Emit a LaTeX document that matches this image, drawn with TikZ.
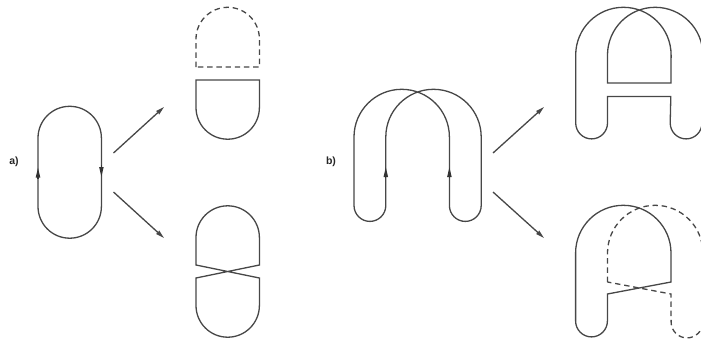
\documentclass[tikz,border=0pt]{standalone}
\usepackage{fontspec}
\setmainfont{Liberation Sans}
\usetikzlibrary{arrows.meta}
\tikzset{
	strand/.style={line width=1.3bp, color=black!72, line join=miter},
	dashstrand/.style={strand, dash pattern=on 5.4bp off 3.8bp},
	moveto/.style={line width=1.3bp, color=black!72, -{Stealth[length=8.5bp,width=4.4bp,inset=0.5bp]}},
	sense/.style={line width=1.3bp, color=black!80, -{Stealth[length=10bp,width=4.2bp,inset=0pt]}},
	panellabel/.style={font=\bfseries\fontsize{10.5bp}{12bp}\selectfont, inner sep=0pt, color=black!85}
}
\begin{document}
\begin{tikzpicture}[x=1bp, y=-1bp]
	\def\BigRadius{47.7} % duza petla
	\def\MidRadius{31.7} % petla w a)
	\def\SmallRadius{15.9} % male zakonczenia
	\useasboundingbox (0,0) rectangle (701,338);
	\clip (0,0) rectangle (701,338);

	% Panel a)
	\node[panellabel] (labelA) at (14,162) {a)};
	\draw[strand] (38,138) arc (180:360:\MidRadius) -- (101.4,206.5) arc (0:180:\MidRadius) -- cycle;
	\coordinate (senseAa) at (38,179);
	\coordinate (senseAb) at (38,167.5);
	\coordinate (senseAc) at (101.4,165);
	\coordinate (senseAd) at (101.4,177);
	\draw[sense] (senseAa) -- (senseAb);
	\draw[sense] (senseAc) -- (senseAd);

	% Strzalki a)
	\coordinate (startAup) at (113.5,153);
	\coordinate (endAup) at (164,107);
	\coordinate (startAdown) at (113.5,192);
	\coordinate (endAdown) at (164,238);
	\draw[moveto] (startAup) -- (endAup);
	\draw[moveto] (startAdown) -- (endAdown);

	% Gora a)
	\draw[dashstrand] (196,67) -- (196,39) arc (180:360:\MidRadius) -- (259.4,67) -- cycle;
	\draw[strand] (196,80) -- (259.4,80) -- (259.4,107.5) arc (0:180:\MidRadius) -- cycle;

	% Dol a)
	\draw[strand] (196,265) -- (196,237.5) arc (180:360:\MidRadius) -- (259.4,265) -- (196,278) -- (196,305.5) arc (180:0:\MidRadius) -- (259.4,278) -- cycle;

	% Panel b)
	\node[panellabel] (labelB) at (331,162) {b)};
	\draw[strand] (449.4,205.5) -- (449.4,137) arc (360:180:\BigRadius) -- (354,205.5) arc (180:0:\SmallRadius) -- (385.8,137) arc (180:360:\BigRadius) -- (481.2,205.5) arc (0:180:\SmallRadius);
	\coordinate (senseBa) at (385.8,178);
	\coordinate (senseBb) at (385.8,167);
	\coordinate (senseBc) at (449.4,178);
	\coordinate (senseBd) at (449.4,167);
	\draw[sense] (senseBa) -- (senseBb);
	\draw[sense] (senseBc) -- (senseBd);

	% Strzalki b)
	\coordinate (startBup) at (493,153);
	\coordinate (endBup) at (544,107);
	\coordinate (startBdown) at (493,192);
	\coordinate (endBdown) at (544,238);
	\draw[moveto] (startBup) -- (endBup);
	\draw[moveto] (startBdown) -- (endBdown);

	% Gora b)
	\draw[strand] (607.5,83) -- (607.5,55) arc (180:360:\BigRadius) -- (702,123) arc (0:180:\SmallRadius) -- (670.8,96.5) -- (607.5,96.5) -- (607.5,123) arc (0:180:\SmallRadius) -- (575.7,55) arc (180:360:\BigRadius) -- (671,83) -- cycle;

	% Dol b)
	\draw[dashstrand] (607.5,282) -- (607.5,253) arc (180:360:\BigRadius) -- (702.9,322) arc (0:180:\SmallRadius) -- (671,294) -- cycle;
	\draw[strand] (671,282) -- (671,253) arc (360:180:\BigRadius) -- (575.6,321) arc (180:0:\SmallRadius) -- (607.4,294) -- cycle;
\end{tikzpicture}
\end{document}
